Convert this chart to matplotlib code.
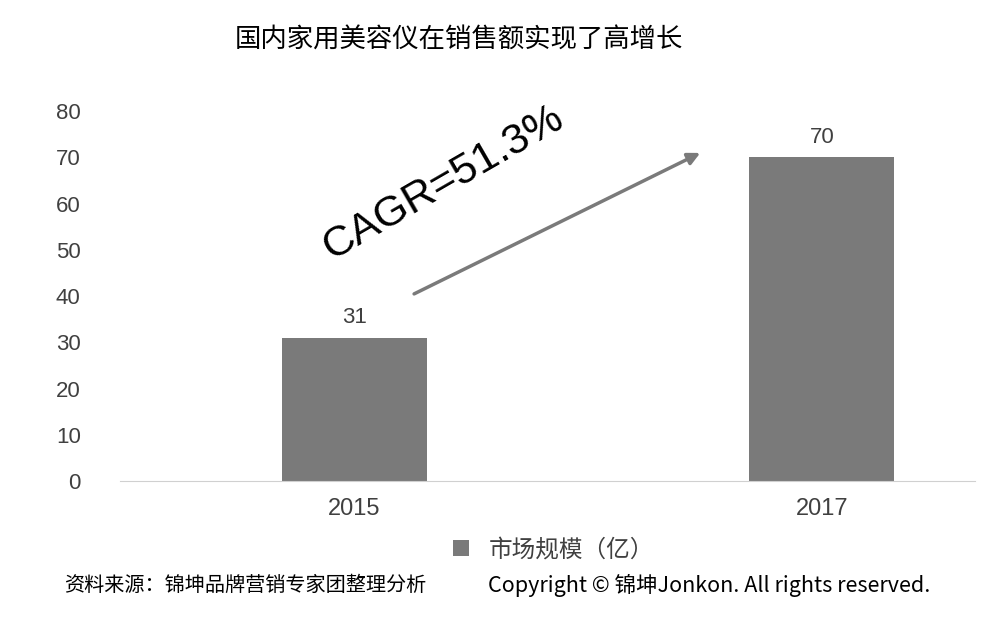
import matplotlib.pyplot as plt

plt.rcParams['font.family'] = ['Noto Sans CJK SC', 'DejaVu Sans']

years = ["2015", "2017"]
market_size = [31, 70]
y_ticks = [0, 10, 20, 30, 40, 50, 60, 70, 80]

fig = plt.figure(figsize=(9.88, 6.2), dpi=100)
ax = fig.add_axes([0.121, 0.224, 0.866, 0.597])

x = list(range(len(years)))
bars = ax.bar(x, market_size, width=0.31, color="#7a7a7a", label="市场规模（亿）")
for xi, v in zip(x, market_size):
    ax.text(xi, v + 2, str(v), ha="center", va="bottom", fontsize=16,
            color="#404040", family="Liberation Sans")

ax.set_xlim(-0.503, 1.328)
ax.set_ylim(0, 80)
ax.set_xticks(x)
ax.set_xticklabels(years, fontsize=17, color="#404040", family="Liberation Sans")
ax.set_yticks(y_ticks)
ax.set_yticklabels([str(t) for t in y_ticks], fontsize=16, color="#404040",
                   family="Liberation Sans")
ax.tick_params(length=0, pad=12)
ax.tick_params(axis="y", pad=28)
for s in ["top", "right", "left"]:
    ax.spines[s].set_visible(False)
ax.spines["bottom"].set_color("#d0d0d0")

# growth arrow and CAGR note
ax.annotate("", xy=(0.745, 71.2), xytext=(0.122, 40.2),
            arrowprops=dict(arrowstyle="-|>", color="#7a7a7a", lw=2.5,
                            mutation_scale=18))
ax.text(0.19, 64.5, "CAGR=51.3%", rotation=30, fontsize=31, ha="center",
        va="center", family="Liberation Sans", color="black")

fig.text(0.465, 0.935, "国内家用美容仪在销售额实现了高增长", ha="center",
         va="center", fontsize=19)
fig.legend(handles=[bars], loc="center", bbox_to_anchor=(0.56, 0.113),
           frameon=False, fontsize=17, handlelength=0.7, handleheight=0.7,
           labelcolor="#404040")
fig.text(0.065, 0.056, "资料来源：锦坤品牌营销专家团整理分析", fontsize=14.5,
         va="center")
fig.text(0.494, 0.056, "Copyright © 锦坤Jonkon. All rights reserved.",
         fontsize=15.5, va="center")

fig.savefig("out.png", dpi=100)
